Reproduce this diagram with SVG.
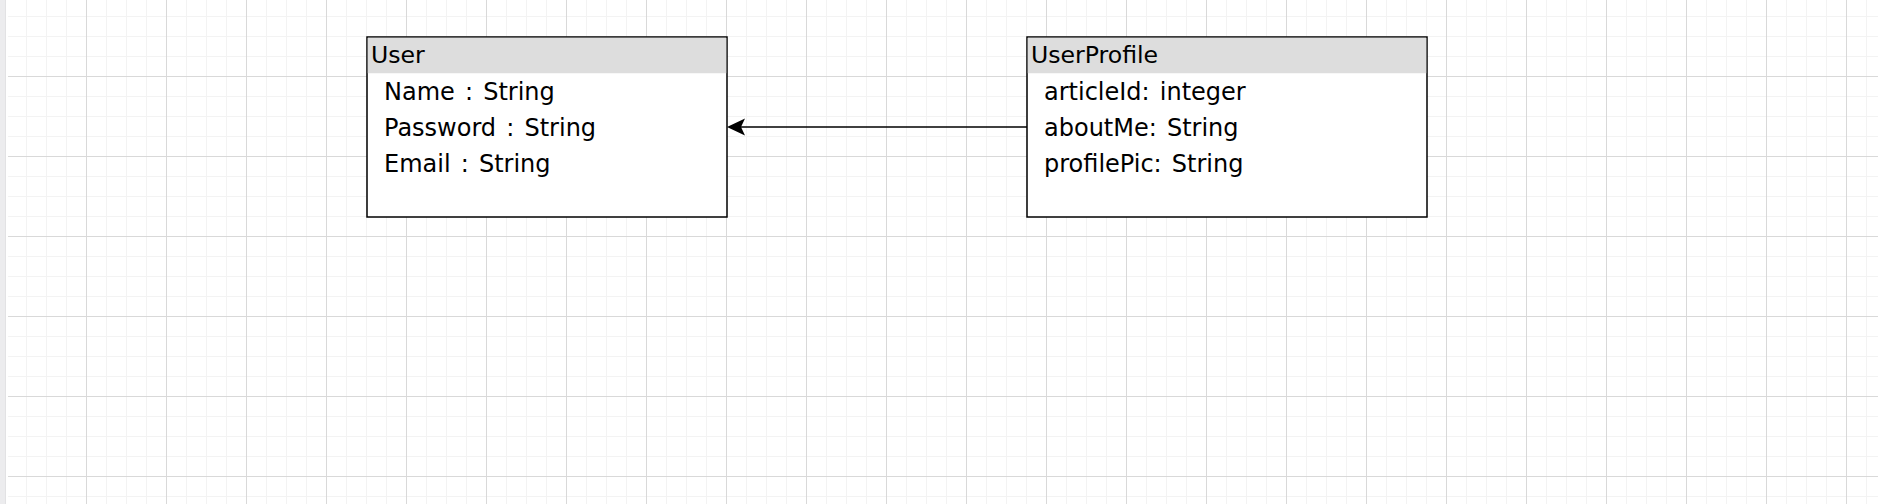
<svg xmlns="http://www.w3.org/2000/svg" width="1878" height="504" viewBox="0 0 1878 504">
  <style>
    .box { fill: #ffffff; stroke: #000000; stroke-width: 1.5; }
    .hdr { fill: #dddddd; }
    .title { font-family: "DejaVu Sans", Verdana, sans-serif; font-size: 23.6px; fill: #000000; }
    .attr { font-family: "DejaVu Sans", Verdana, sans-serif; font-size: 24px; word-spacing: 2.5px; fill: #000000; }
    .edge { fill: none; stroke: #000000; stroke-width: 1.5; }
  </style>
  <defs>
    <pattern id="grid" x="6" y="-4" width="80" height="80" patternUnits="userSpaceOnUse">
      <rect x="0" y="0" width="80" height="80" fill="#ffffff"/>
      <rect x="20" y="0" width="1" height="80" fill="#f3f3f3"/>
      <rect x="40" y="0" width="1" height="80" fill="#f3f3f3"/>
      <rect x="60" y="0" width="1" height="80" fill="#f3f3f3"/>
      <rect x="0" y="20" width="80" height="1" fill="#f3f3f3"/>
      <rect x="0" y="40" width="80" height="1" fill="#f3f3f3"/>
      <rect x="0" y="60" width="80" height="1" fill="#f3f3f3"/>
      <rect x="0" y="0" width="1" height="80" fill="#d9d9d9"/>
      <rect x="0" y="0" width="80" height="1" fill="#d9d9d9"/>
    </pattern>
  </defs>
  <rect x="0" y="0" width="1878" height="504" fill="#ffffff"/>
  <rect x="8" y="0" width="1870" height="504" fill="url(#grid)"/>
  <rect x="0" y="0" width="6" height="504" fill="#ececee"/>
  <rect x="5" y="0" width="1" height="504" fill="#e2e2e4"/>

  <g id="connectors">
    <path class="edge" d="M1027,127 L729,127"/>
    <path d="M727,127 L745,118.5 L741,127 L745,135.5 Z" fill="#000000"/>
  </g>

  <g id="node-user">
    <rect class="box" x="367" y="37" width="360" height="180"/>
    <rect class="hdr" x="367.75" y="37.75" width="358.5" height="35.5"/>
    <text class="title" x="371" y="63">User</text>
    <text class="attr" x="384" y="100">Name : String</text>
    <text class="attr" x="384" y="136">Password : String</text>
    <text class="attr" x="384" y="172">Email : String</text>
  </g>

  <g id="node-userprofile">
    <rect class="box" x="1027" y="37" width="400" height="180"/>
    <rect class="hdr" x="1027.75" y="37.75" width="398.5" height="35.5"/>
    <text class="title" x="1031" y="63">UserProfile</text>
    <text class="attr" x="1044" y="100">articleId: integer</text>
    <text class="attr" x="1044" y="136">aboutMe: String</text>
    <text class="attr" x="1044" y="172">profilePic: String</text>
  </g>
</svg>
